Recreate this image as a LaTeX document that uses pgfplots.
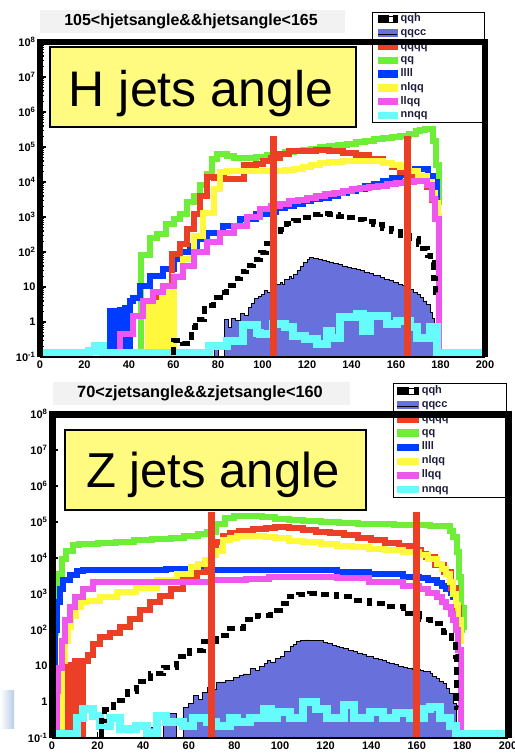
\documentclass[border=0pt]{standalone}
\usepackage{pgfplots}
\pgfplotsset{compat=1.18}
\usepackage{fontspec}
\setmainfont{Liberation Sans}
\definecolor{cRed}{RGB}{236,64,38}
\definecolor{cGreen}{RGB}{110,238,56}
\definecolor{cBlue}{RGB}{0,60,255}
\definecolor{cYellow}{RGB}{255,248,60}
\definecolor{cMag}{RGB}{238,86,238}
\definecolor{cCyan}{RGB}{102,252,252}
\definecolor{cSlate}{RGB}{104,112,220}
\definecolor{cBox}{RGB}{255,250,128}
\definecolor{cTitle}{RGB}{242,242,242}
\definecolor{cLeg}{RGB}{30,30,60}
\pgfplotsset{
  qqccst/.style={fill=cSlate, draw=black, line width=0.8pt, forget plot},
  lst/.style={line width=6pt, forget plot},
  cyanst/.style={cCyan, line width=8pt, forget plot},
  qqhst/.style={black, line width=5pt, dash pattern=on 8pt off 5pt, forget plot},
  cutst/.style={cRed, line width=7pt, forget plot},
}
\newcommand{\legendset}[1]{%
  \addlegendimage{legend image code/.code={\fill[black] (0pt,-3.5pt) rectangle (#1*0.55,3.5pt); \fill[black] (#1*0.82,-3.5pt) rectangle (#1,3.5pt); \draw[black,line width=0.6pt] (0pt,-3.2pt) rectangle (#1,3.2pt);}}
  \addlegendentry{qqh}
  \addlegendimage{legend image code/.code={\fill[cSlate] (0pt,-3.5pt) rectangle (#1,3.5pt); \draw[black,line width=1.2pt] (0pt,-1.5pt) -- (#1,-1.5pt);}}
  \addlegendentry{qqcc}
  \addlegendimage{legend image code/.code={\fill[cRed] (0pt,-3pt) rectangle (#1,3.5pt);}}
  \addlegendentry{qqqq}
  \addlegendimage{legend image code/.code={\fill[cGreen] (0pt,-3pt) rectangle (#1,3.5pt);}}
  \addlegendentry{qq}
  \addlegendimage{legend image code/.code={\fill[cBlue] (0pt,-3pt) rectangle (#1,3.5pt);}}
  \addlegendentry{llll}
  \addlegendimage{legend image code/.code={\fill[cYellow] (0pt,-3pt) rectangle (#1,3.5pt);}}
  \addlegendentry{nlqq}
  \addlegendimage{legend image code/.code={\fill[cMag] (0pt,-3pt) rectangle (#1,3.5pt);}}
  \addlegendentry{llqq}
  \addlegendimage{legend image code/.code={\fill[cCyan] (0pt,-3pt) rectangle (#1,3.5pt);}}
  \addlegendentry{nnqq}
}
\begin{document}
\begin{tikzpicture}
\path[use as bounding box] (0pt,0pt) rectangle (514pt,-754pt);
% ---------------- top panel ----------------
\fill[cTitle] (40pt,-10pt) rectangle (345pt,-33pt);
\node[font=\bfseries\fontsize{16}{16}\selectfont, inner sep=0pt] at (191pt,-21.5pt) {105<hjetsangle\&\&hjetsangle<165};
\begin{axis}[name=top, at={(40pt,-357pt)}, anchor=south west, width=445pt, height=315pt,
    scale only axis, xmin=0, xmax=200, ymode=log, ymin=0.1, ymax=1e8,
    log origin=infty, axis line style={draw=none},
    xtick={0,20,...,200}, xticklabels={0,20,40,60,80,100,120,140,160,180,200},
    ytick={0.1,1,10,100,1000,1e4,1e5,1e6,1e7,1e8},
    yticklabels={10\textsuperscript{-1},1,10,10\textsuperscript{2},10\textsuperscript{3},10\textsuperscript{4},10\textsuperscript{5},10\textsuperscript{6},10\textsuperscript{7},10\textsuperscript{8}},
    tick align=inside, xtick pos=bottom, ytick pos=left,
    major tick length=6pt, minor tick length=3.5pt,
    tick style={black, line width=1.2pt},
    ticklabel style={font=\bfseries\fontsize{11}{11}\selectfont},
    yticklabel style={xshift=-1pt},
    legend cell align=left,
    legend style={at={(axis description cs:0.746,1.0952)}, anchor=north west, draw=black, line width=1pt, fill=white,
      font=\bfseries\fontsize{11}{11}\selectfont, text=cLeg, inner xsep=5pt, inner ysep=2.1pt,
      row sep=4.25pt,
      nodes={inner sep=0pt, text height=7pt, text depth=2.5pt, text width=79pt, align=left},
      /tikz/every odd column/.append style={column sep=3pt}},
    const plot]
\addplot[qqccst] coordinates {(77,0.01)(78.5,0.25)(80,0.01)(83,1.2)(84.5,0.7)(86,1.3)(88,1.1)(90,1.8)(92,1.5)(93.5,2.6)(95,3.5)(96.5,4.6)(98,5.5)(99.5,6.3)(101,8)(102,7)(103.4,11)(105,10)(106,12)(108,13.5)(109,12)(110,16)(112,20)(113,18)(114,23)(115.5,30)(117,38)(118.3,50)(120,60)(121.3,68)(123,64)(125,61)(127,58)(128.5,55)(130,52)(132,47)(134,44)(136,40)(138,37)(140,34)(142,31)(144,29)(146,27)(148,25)(150,22)(151.5,21)(153,19)(155,17)(157,15)(159,13.5)(161,12)(163,11)(165,9.5)(166.5,8.7)(168,7)(169.5,6)(170.8,5)(172.3,4)(173.8,3.2)(175.3,1.9)(176.3,1.3)(177.3,0.01)(178,0.01)} \closedcycle;
\addplot[lst, cGreen] coordinates {(44,0.01)(45.5,80)(49.5,250)(52.5,320)(56.5,630)(60,870)(63,1200)(66,2600)(69,4000)(72,8000)(75,1.7e4)(77.5,4.6e4)(79.5,6.2e4)(84,5.5e4)(87,4.7e4)(93,4.9e4)(97,5.2e4)(102,5.8e4)(106,6.5e4)(110,7e4)(114,7.6e4)(118,8.2e4)(122,9e4)(126,9.8e4)(130,1.07e5)(134,1.15e5)(138,1.25e5)(142,1.38e5)(146,1.5e5)(150,1.65e5)(154,1.8e5)(158,1.95e5)(162,2.1e5)(166,2.4e5)(169,2.8e5)(171,3.1e5)(173,3.3e5)(176,3.2e5)(176.8,1.5e5)(178,3e4)(179.2,2.2e3)(180.3,2.2e3)};
\addplot[lst, cBlue] coordinates {(30,0.01)(31.5,2)(33,0.01)(33.8,2)(35.2,0.01)(36,2.2)(37.4,0.01)(38.2,2.5)(39.6,0.01)(40.3,4)(42,5)(45,11)(49.4,21)(55.4,32)(60,63)(63,98)(67.4,150)(70.4,235)(75,360)(82.4,560)(90,870)(97,1.2e3)(102,1.4e3)(106,1.8e3)(110,2.1e3)(114,2.4e3)(118,2.8e3)(122,3.2e3)(126,3.6e3)(130,4.1e3)(134,4.8e3)(138,5.6e3)(142,6.5e3)(146,7.5e3)(150,9e3)(154,1.05e4)(158,1.3e4)(162,1.6e4)(165,2e4)(167,2.4e4)(174.5,1.5e4)(176.5,1e4)(178.5,2.1e3)(180,2.1e3)};
\addplot[lst, cRed] coordinates {(52,0.01)(53.5,5)(54.6,0.01)(59.3,90)(63,170)(66,460)(69,1200)(72,4000)(75,1.35e4)(78,1.3e4)(82.5,1.2e4)(91.5,3e4)(97,3.3e4)(100,4e4)(104,5e4)(108,6.3e4)(112,7.5e4)(116,7.9e4)(124,8e4)(130,7.6e4)(136,6.8e4)(142,5.8e4)(148,4.6e4)(154,3.6e4)(158,2.6e4)(162,1.9e4)(166,1.35e4)(170,1.1e4)(174,7e3)(176,3e3)(178,1.1e3)(180.3,1.1e3)};
\addplot[lst, cYellow] coordinates {(47,0.01)(48.5,3)(50,0.01)(50.8,3.5)(52.3,0.01)(55,7)(56.5,0.01)(57.3,7)(58.8,0.01)(60,21)(64.4,63)(69,295)(73.4,1300)(78,6300)(81,1.9e4)(84,2.1e4)(90,2e4)(96,2e4)(102,2.1e4)(106,2.1e4)(110,2.2e4)(114,2.3e4)(118,2.6e4)(122,3e4)(126,3.4e4)(130,3.7e4)(136,3.9e4)(142,4e4)(148,3.9e4)(154,3.6e4)(158,3.1e4)(162,2.6e4)(166,2e4)(170,1.5e4)(174,9.8e3)(176,5e3)(177.5,2.5e3)(179,1.1e3)(180.5,1.1e3)};
\addplot[lst, cMag] coordinates {(34.5,0.01)(36,0.46)(42,1.5)(46.4,4)(51,7)(55.4,11)(60,19)(64.4,41)(69,98)(75,190)(81,360)(87,560)(93,980)(99,1.7e3)(104,2.1e3)(108,2.4e3)(112,2.8e3)(116,3.1e3)(120,3.5e3)(124,4e3)(128,4.5e3)(132,5e3)(136,5.6e3)(140,6.2e3)(144,6.6e3)(148,7.2e3)(152,7.8e3)(156,8.5e3)(160,9.3e3)(164,1e4)(168,1.1e4)(172,1.1e4)(174,8e3)(176,3.2e3)(177.5,900)(179.2,0.01)(181,0.01)};
\addplot[cyanst] coordinates {(0,0.13)(22,0.15)(24.7,0.2)(28.5,0.13)(76,0.2)(84,0.28)(91.4,0.8)(97.4,0.5)(98.9,0.46)(104.9,0.87)(110.1,0.7)(113.8,0.41)(119,0.32)(124.3,0.23)(128.8,0.56)(131,0.36)(134.8,1.35)(142.3,1.7)(145.3,0.56)(148.3,1.5)(155.8,0.87)(160.3,1.1)(166.3,0.7)(169.3,0.36)(175.3,0.7)(178.3,0.13)(200,0.13)};
\addplot[qqhst] coordinates {(59,0.01)(60,0.3)(64,0.25)(68,0.7)(70,1.2)(74,3)(78,5)(81,7)(84,11)(87,17)(90,27)(93,41)(96,62)(99,98)(102,170)(105,300)(108,450)(111,650)(114,800)(118,1e3)(122,1.2e3)(126,1.25e3)(130,1.2e3)(134,1.05e3)(138,950)(142,830)(146,720)(150,600)(154,480)(158,380)(162,300)(166,240)(170,160)(172,122)(174,80)(175.5,50)(176.8,17)(177.6,7)(178.2,7)};
\addplot[cutst] coordinates {(105,0.05)(105,2e5)};
\addplot[cutst] coordinates {(165,0.05)(165,2e5)};
\legendset{19pt}
\end{axis}
\draw[line width=6.5pt] (top.south west) -- (top.north west) -- (top.north east) -- (top.south east);
\draw[line width=2pt] (top.south west) -- (top.south east);
\draw[fill=cBox, line width=1.5pt] (50pt,-47pt) rectangle (356pt,-127pt);
\node[anchor=base, font=\fontsize{50}{50}\selectfont, inner sep=0pt] at (201pt,-107pt) {H jets angle};
% ---------------- bottom panel ----------------
\fill[cTitle] (53pt,-382pt) rectangle (350pt,-405pt);
\node[font=\bfseries\fontsize{16.3}{16.3}\selectfont, inner sep=0pt] at (200pt,-393pt) {70<zjetsangle\&\&zjetsangle<160};
\begin{axis}[name=bot, at={(52pt,-738pt)}, anchor=south west, width=456pt, height=324pt,
    scale only axis, xmin=0, xmax=200, ymode=log, ymin=0.1, ymax=1e8,
    log origin=infty, axis line style={draw=none},
    xtick={0,20,...,200}, xticklabels={0,20,40,60,80,100,120,140,160,180,200},
    ytick={0.1,1,10,100,1000,1e4,1e5,1e6,1e7,1e8},
    yticklabels={10\textsuperscript{-1},1,10,10\textsuperscript{2},10\textsuperscript{3},10\textsuperscript{4},10\textsuperscript{5},10\textsuperscript{6},10\textsuperscript{7},10\textsuperscript{8}},
    tick align=inside, xtick pos=bottom, ytick pos=left,
    major tick length=6pt, minor tick length=3.5pt,
    tick style={black, line width=1.2pt},
    ticklabel style={font=\bfseries\fontsize{11}{11}\selectfont},
    yticklabel style={xshift=-1pt},
    legend cell align=left,
    legend style={at={(axis description cs:0.748,1.0957)}, anchor=north west, draw=black, line width=1pt, fill=white,
      font=\bfseries\fontsize{11}{11}\selectfont, text=cLeg, inner xsep=3pt, inner ysep=2.9pt,
      row sep=4.6pt,
      nodes={inner sep=0pt, text height=7pt, text depth=2.5pt, text width=82pt, align=left},
      /tikz/every odd column/.append style={column sep=3pt}},
    const plot]
\addplot[qqccst] coordinates {(41,0.01)(41.5,0.2)(46,0.01)(49,0.47)(54.6,0.01)(57.6,0.72)(60,0.9)(62,1.5)(64,1.2)(66,1.8)(68,2.6)(70,2.3)(72,3.6)(76,3.9)(79.5,4.9)(82,5.5)(84,6)(87,8.4)(89,7.5)(91,10)(93,12)(94.5,14)(96,13)(98,16)(100,18)(102,25)(104.4,34)(106,40)(107.3,47)(109,50)(111,53)(113,51)(115,52)(117.5,50)(119,46)(121,42)(123,38)(124.8,34)(126,32)(128,30)(130,27)(132,25)(134,23)(136,21)(138,19)(139.4,18)(141,16)(143,15)(145,14)(146.7,13)(148,12)(150,11)(152,10)(154,9.3)(156,8.8)(158,8.3)(160,8)(161.4,7.6)(163,7)(165.8,6.1)(167,5.2)(168.7,4.5)(170,3.8)(171.6,3.2)(173,2.4)(174.5,1.7)(176,0.9)(177.3,0.01)(178,0.01)} \closedcycle;
\addplot[lst, cGreen] coordinates {(0.3,0.01)(1,80)(1.8,660)(2.8,3.6e3)(4.2,9.5e3)(6.3,1.6e4)(9,2.3e4)(12,2.5e4)(20,2.6e4)(28,2.8e4)(36,3.1e4)(44,3.4e4)(52,3.7e4)(58,4.2e4)(64,4.5e4)(68,5.3e4)(72,9e4)(76,1.3e5)(80,1.5e5)(86,1.5e5)(92,1.4e5)(98,1.25e5)(104,1.15e5)(110,1.05e5)(118,1e5)(126,9.4e4)(134,9e4)(142,8.7e4)(150,8.4e4)(158,8e4)(166,7.8e4)(172,7.6e4)(174.5,5.5e4)(176,3.8e4)(177.5,1.5e4)(178.5,3e3)(179.5,400)(180.5,100)(181,100)};
\addplot[lst, cBlue] coordinates {(0.5,0.01)(1.2,98)(2.1,600)(3.3,1.4e3)(5,2.4e3)(7.9,3.3e3)(10.8,4.3e3)(13.7,4.6e3)(30,4.7e3)(50,4.8e3)(70,4.7e3)(90,4.6e3)(100,4.5e3)(110,4.5e3)(125,4.1e3)(139,3.6e3)(154,2.9e3)(161,2.7e3)(165,2.4e3)(168.7,2e3)(171,1.7e3)(173,1.4e3)(175,1.1e3)(176,830)(177,600)(178,600)};
\addplot[lst, cRed] coordinates {(5.5,0.01)(6.4,11)(7.2,0.01)(7.8,11)(8.8,0.01)(10,14)(11.2,0.01)(11.8,14)(13,0.01)(13.7,14)(16,20)(18,42)(21,63)(25.4,80)(29.8,120)(34.4,200)(38.6,350)(43,600)(47.4,900)(52,1.4e3)(57.6,2.7e3)(63.4,4e3)(67.8,8e3)(70,1.7e4)(72,2.8e4)(75,4e4)(78,5e4)(82,5.8e4)(88,6.4e4)(94,7e4)(98,7.3e4)(104,6.8e4)(110,6e4)(116,5.4e4)(122,4.9e4)(128,4.3e4)(134,3.7e4)(140,3.1e4)(146,2.6e4)(152,2.2e4)(158,1.7e4)(162,1.3e4)(164,1.1e4)(168,6.5e3)(172,4e3)(175,1.5e3)(177,400)(178.5,100)(179.5,100)};
\addplot[lst, cYellow] coordinates {(3.5,0.01)(4.3,14)(5.5,51)(7,120)(8.5,250)(10.5,440)(12.5,600)(15,660)(21,830)(28.4,1.15e3)(37,1.5e3)(46,2.4e3)(55,3.6e3)(61,5.6e3)(64,7e3)(67,8.7e3)(70,1.2e4)(72,1.6e4)(75,3.1e4)(78,3.6e4)(81,4.2e4)(87,4e4)(93,3.8e4)(98,3.5e4)(104,3e4)(110,2.8e4)(118,2.4e4)(125,2.2e4)(132,2e4)(139,1.8e4)(146,1.65e4)(154,1.5e4)(161,1.2e4)(165,9.5e3)(168.7,6.9e3)(171,5e3)(173,3.6e3)(174.5,2.2e3)(176,1e3)(177,500)(178.2,190)(179.5,50)(180.5,50)};
\addplot[lst, cMag] coordinates {(1.8,0.01)(2.4,2)(2.8,9)(4.3,51)(5.7,190)(7.9,440)(10,830)(13.7,1.4e3)(18,2.2e3)(28,2.1e3)(40,2.1e3)(55,2.2e3)(70,2.4e3)(85,2.6e3)(95,2.9e3)(100,3e3)(110,3e3)(125,2.8e3)(139,2.2e3)(154,1.7e3)(161,1.4e3)(165,1.1e3)(168.7,830)(171,600)(173,440)(175,280)(176,190)(177,100)(178.2,28)(179.3,0.01)(181,0.01)};
\addplot[cyanst] coordinates {(0,0.13)(10.8,0.35)(13.7,0.65)(18,0.42)(21,0.22)(25.4,0.35)(30,0.18)(37,0.22)(41.5,0.14)(46,0.42)(50,0.27)(57.6,0.22)(62,0.35)(68,0.27)(72,0.22)(78,0.35)(81,0.27)(87,0.37)(93,0.65)(96,0.35)(98.5,0.54)(104.4,0.35)(110,1.0)(116,0.65)(120.5,0.35)(128,0.8)(132.5,0.37)(139.4,0.54)(145,0.35)(151,0.49)(157,0.35)(163,0.65)(165.8,0.72)(170.2,0.35)(174.5,0.22)(177,0.13)(200,0.13)};
\addplot[qqhst] coordinates {(21,0.01)(21.8,0.3)(23,0.6)(27,1.1)(33,1.9)(37,3.6)(43,6.1)(48.8,9.3)(54.6,18)(60.5,27)(66.4,47)(72.2,71)(78,110)(84,190)(90,260)(96,350)(100,540)(104,850)(108,1e3)(113,1.05e3)(118,1e3)(124.8,830)(132,660)(139.4,540)(146.7,440)(154,280)(161.4,200)(165.8,150)(171.6,87)(175.3,47)(176.8,18)(177.5,0.72)(178,0.72)};
\addplot[cutst] coordinates {(70,0.05)(70,1.9e5)};
\addplot[cutst] coordinates {(160,0.05)(160,1.9e5)};
\legendset{21pt}
\end{axis}
\draw[line width=7pt] (bot.south west) -- (bot.north west) -- (bot.north east) -- (bot.south east);
\draw[line width=2pt] (bot.south west) -- (bot.south east);
\draw[fill=cBox, line width=1.5pt] (65pt,-430pt) rectangle (366pt,-510pt);
\node[anchor=base, font=\fontsize{49}{49}\selectfont, inner sep=0pt] at (213pt,-487pt) {Z jets angle};
\fill[left color=white, right color={rgb,255:red,185;green,205;blue,230}] (0pt,-690pt) rectangle (14pt,-728pt);
\end{tikzpicture}
\end{document}
